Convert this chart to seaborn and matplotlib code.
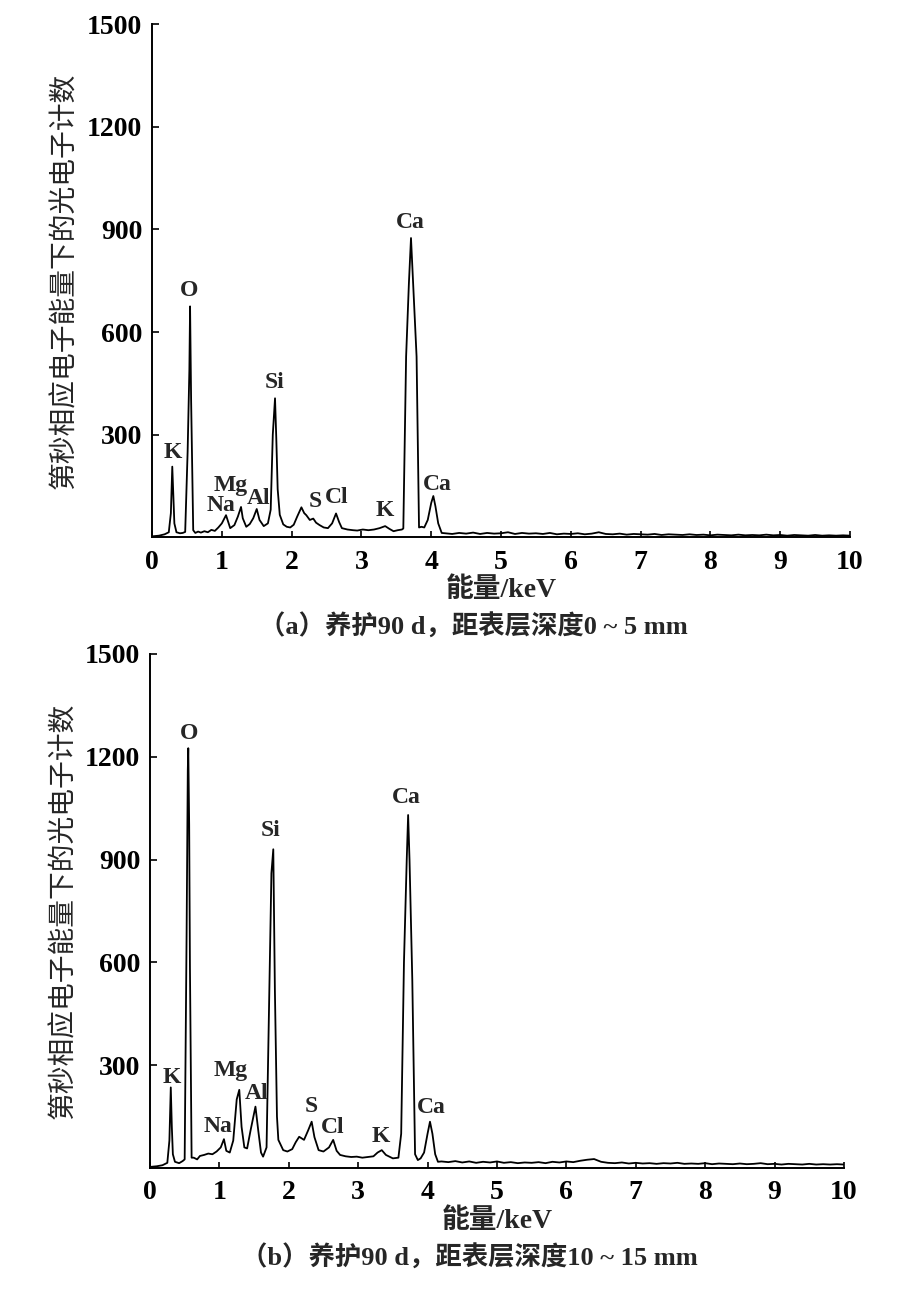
import pandas as pd
import seaborn as sns
import matplotlib.pyplot as plt

sns.set_theme(style='ticks')
plt.rcParams['font.family'] = ['Liberation Serif', 'Noto Sans CJK SC']

# spectrum (a): 0~5 mm, peak region
energy_a = [0.00, 0.10, 0.18, 0.24, 0.27, 0.29, 0.305, 0.32, 0.35, 0.40, 0.44,
            0.475, 0.51, 0.535, 0.545, 0.56, 0.59, 0.62, 0.66, 0.70, 0.75, 0.80,
            0.85, 0.90, 0.95, 1.00, 1.06, 1.12, 1.18, 1.23, 1.275, 1.30, 1.35,
            1.40, 1.45, 1.50, 1.54, 1.60, 1.66, 1.70, 1.73, 1.762, 1.78, 1.80,
            1.83, 1.88, 1.93, 1.98, 2.03, 2.08, 2.14, 2.18, 2.21, 2.26, 2.31,
            2.35, 2.40, 2.46, 2.52, 2.58, 2.636, 2.68, 2.72, 2.80, 2.88, 2.94,
            3.02, 3.10, 3.18, 3.26, 3.34, 3.40, 3.46, 3.52, 3.58, 3.60, 3.64,
            3.68, 3.71, 3.74, 3.79, 3.825, 3.86, 3.90, 3.95, 4.00, 4.03, 4.06,
            4.10, 4.15]
counts_a = [2, 4, 8, 14, 70, 206, 120, 40, 14, 11, 12,
            15, 250, 490, 675, 400, 20, 12, 16, 13, 17, 14,
            21, 18, 28, 40, 64, 26, 35, 60, 88, 55, 30,
            38, 55, 82, 50, 32, 40, 80, 300, 406, 290, 140,
            65, 37, 30, 28, 36, 60, 87, 70, 64, 50, 54,
            42, 35, 28, 26, 40, 69, 44, 26, 22, 20, 19,
            22, 20, 22, 26, 32, 24, 17, 20, 22, 25, 528,
            743, 875, 743, 528, 28, 30, 28, 50, 100, 120, 90,
            40, 12]
# spectrum (a): background tail
energy_a_tail = [4.2, 4.3, 4.4, 4.5, 4.6, 4.7, 4.8, 4.9, 5.0, 5.1, 5.2, 5.3,
                 5.4, 5.5, 5.6, 5.7, 5.8, 5.9, 6.0, 6.1, 6.2, 6.3, 6.4, 6.5,
                 6.6, 6.7, 6.8, 6.9, 7.0, 7.1, 7.2, 7.3, 7.4, 7.5, 7.6, 7.7,
                 7.8, 7.9, 8.0, 8.1, 8.2, 8.3, 8.4, 8.5, 8.6, 8.7, 8.8, 8.9,
                 9.0, 9.1, 9.2, 9.3, 9.4, 9.5, 9.6, 9.7, 9.8, 9.9, 10.0]
counts_a_tail = [11, 9, 12, 10, 13, 9, 12, 10, 11, 14, 9, 12,
                 10, 11, 9, 12, 8, 10, 9, 11, 8, 10, 14, 9,
                 8, 10, 7, 9, 8, 7, 9, 6, 8, 7, 6, 8,
                 6, 7, 5, 7, 6, 5, 7, 5, 6, 5, 7, 5,
                 6, 4, 6, 5, 4, 6, 4, 5, 4, 5, 4]

# spectrum (b): 10~15 mm, peak region
energy_b = [0.00, 0.10, 0.18, 0.25, 0.28, 0.30, 0.315, 0.33, 0.36, 0.42, 0.47,
            0.50, 0.528, 0.545, 0.552, 0.565, 0.576, 0.60, 0.63, 0.68, 0.72,
            0.78, 0.84, 0.90, 0.96, 1.02, 1.066, 1.10, 1.15, 1.20, 1.25, 1.287,
            1.32, 1.36, 1.40, 1.45, 1.52, 1.56, 1.60, 1.63, 1.68, 1.72, 1.75,
            1.777, 1.80, 1.83, 1.85, 1.92, 1.98, 2.05, 2.10, 2.15, 2.22, 2.28,
            2.33, 2.37, 2.43, 2.50, 2.58, 2.64, 2.69, 2.74, 2.82, 2.90, 2.98,
            3.06, 3.14, 3.22, 3.28, 3.34, 3.40, 3.50, 3.58, 3.62, 3.66, 3.70,
            3.72, 3.74, 3.78, 3.82, 3.86, 3.90, 3.95, 4.00, 4.035, 4.07, 4.11,
            4.15]
counts_b = [3, 5, 8, 15, 80, 235, 120, 40, 18, 14, 20,
            25, 686, 1161, 1225, 1000, 587, 30, 30, 25, 35,
            38, 42, 40, 48, 60, 84, 50, 45, 80, 200, 228,
            120, 60, 57, 110, 179, 110, 45, 33, 60, 520, 860,
            930, 520, 150, 82, 52, 48, 55, 75, 91, 82, 110,
            135, 90, 52, 48, 60, 82, 50, 38, 34, 32, 33,
            30, 32, 34, 45, 52, 38, 28, 30, 100, 600, 900,
            1030, 900, 550, 40, 23, 28, 45, 100, 135, 100, 40,
            18]
# spectrum (b): background tail
energy_b_tail = [4.2, 4.3, 4.4, 4.5, 4.6, 4.7, 4.8, 4.9, 5.0, 5.1, 5.2, 5.3,
                 5.4, 5.5, 5.6, 5.7, 5.8, 5.9, 6.0, 6.1, 6.2, 6.3, 6.4, 6.5,
                 6.6, 6.7, 6.8, 6.9, 7.0, 7.1, 7.2, 7.3, 7.4, 7.5, 7.6, 7.7,
                 7.8, 7.9, 8.0, 8.1, 8.2, 8.3, 8.4, 8.5, 8.6, 8.7, 8.8, 8.9,
                 9.0, 9.1, 9.2, 9.3, 9.4, 9.5, 9.6, 9.7, 9.8, 9.9, 10.0]
counts_b_tail = [19, 17, 20, 16, 19, 15, 18, 16, 19, 15, 17, 14,
                 16, 15, 17, 14, 18, 16, 19, 17, 21, 24, 26, 18,
                 15, 14, 16, 13, 15, 13, 14, 12, 14, 13, 15, 12,
                 13, 12, 14, 11, 13, 12, 11, 13, 11, 12, 14, 11,
                 12, 10, 12, 11, 10, 12, 10, 11, 10, 11, 10]

peak_names = ['K', 'O', 'Na', 'Mg', 'Al', 'Si', 'S', 'Cl', 'K', 'Ca', 'Ca']
label_x_a = [0.30, 0.53, 0.99, 1.12, 1.52, 1.76, 2.34, 2.64, 3.34, 3.70, 4.08]
label_y_a = [246, 721, 91, 150, 114, 451, 105, 117, 79, 920, 155]
label_x_b = [0.32, 0.56, 0.98, 1.17, 1.54, 1.74, 2.33, 2.64, 3.33, 3.70, 4.06]
label_y_b = [263, 1269, 120, 283, 216, 986, 178, 117, 93, 1080, 175]

captions = ['（a）养护90 d，距表层深度0 ~ 5 mm',
            '（b）养护90 d，距表层深度10 ~ 15 mm']
ylabel = '第秒相应电子能量下的光电子计数'
xlabel = '能量/keV'

fig = plt.figure(figsize=(8.98, 12.95), dpi=100)
ax1 = fig.add_axes([0.1693, 0.5853, 0.7773, 0.3958])
ax2 = fig.add_axes([0.1670, 0.0981, 0.7728, 0.3969])


def draw(ax, energy, counts, lx, ly, caption):
    df = pd.DataFrame({'energy': energy, 'counts': counts})
    sns.lineplot(data=df, x='energy', y='counts', ax=ax, color='black',
                 lw=1.3, estimator=None, sort=False)
    ax.set_xlim(0, 10)
    ax.set_ylim(0, 1500)
    ax.set_xticks(range(11))
    ax.set_yticks([300, 600, 900, 1200, 1500])
    sns.despine(ax=ax)
    for s in ['left', 'bottom']:
        ax.spines[s].set_linewidth(1.4)
        ax.spines[s].set_color('black')
    ax.tick_params(axis='x', direction='in', length=4.5, width=1.2,
                   labelsize=20, pad=9, colors='black')
    ax.tick_params(axis='y', direction='in', length=5, width=1.2,
                   labelsize=20, pad=7, colors='black')
    for lbl in ax.get_xticklabels() + ax.get_yticklabels():
        lbl.set_fontweight('bold')
    for name, x, y in zip(peak_names, lx, ly):
        ax.text(x, y, name, ha='center', va='center', fontsize=17,
                fontweight='bold')
    ax.set_xlabel(xlabel, fontsize=20, fontweight='bold', labelpad=2)
    ax.set_ylabel(ylabel, fontsize=20, va='center')
    ax.yaxis.set_label_coords(-0.124, 0.5)
    ax.text(0.46, -0.175, caption, transform=ax.transAxes, ha='center',
            va='center', fontsize=19, fontweight='bold')


draw(ax1, energy_a + energy_a_tail, counts_a + counts_a_tail,
     label_x_a, label_y_a, captions[0])
draw(ax2, energy_b + energy_b_tail, counts_b + counts_b_tail,
     label_x_b, label_y_b, captions[1])

fig.savefig('out.png', dpi=100)
